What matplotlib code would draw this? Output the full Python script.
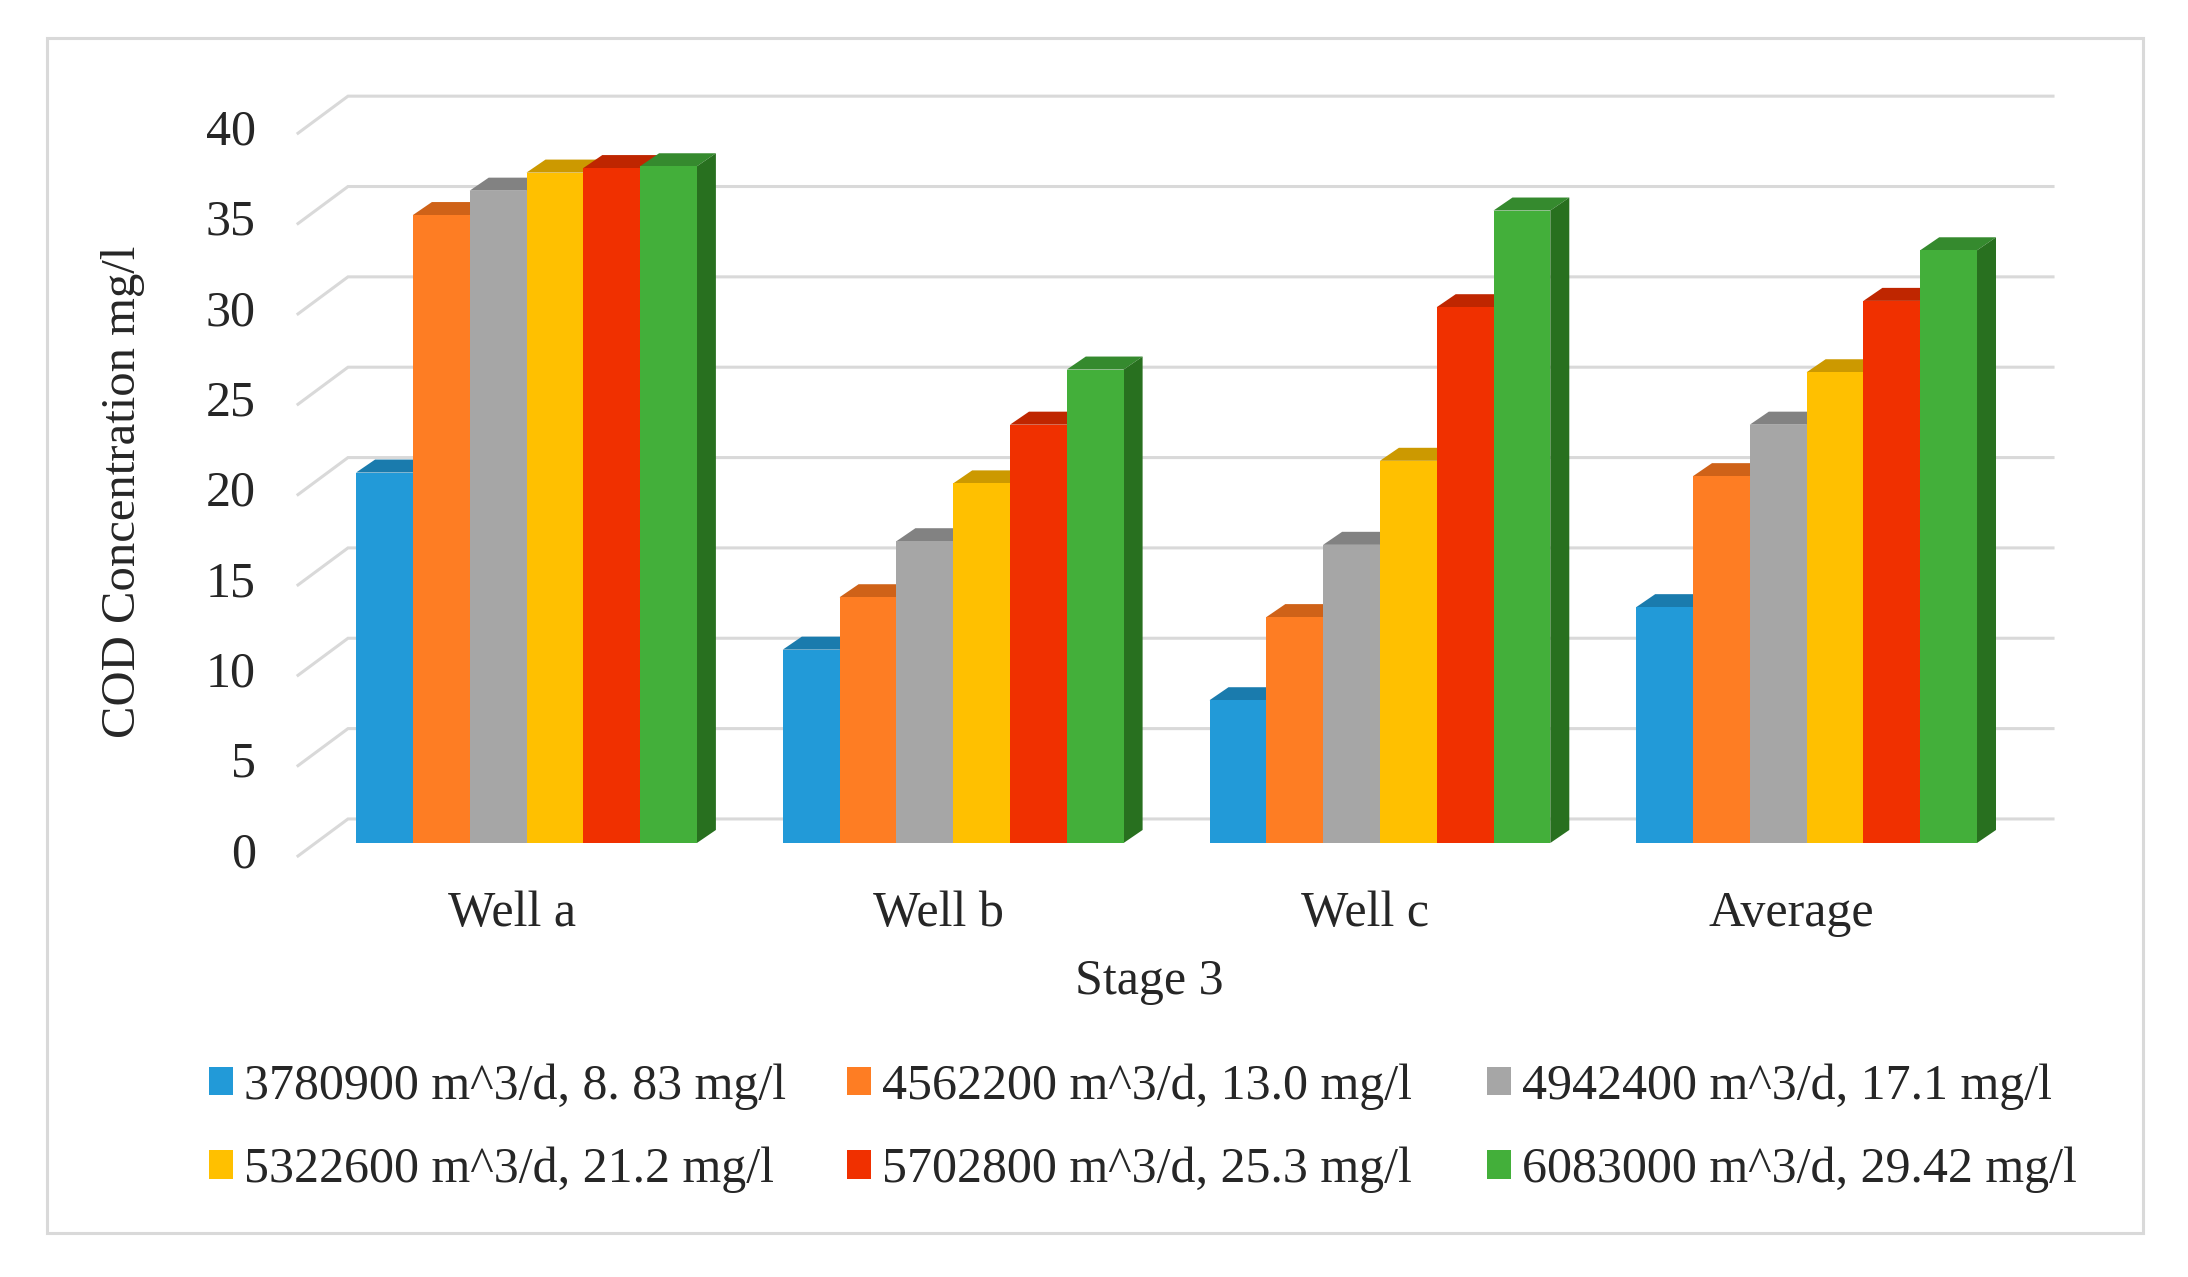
import numpy as np
import matplotlib
matplotlib.use("Agg")
import matplotlib.pyplot as plt
from matplotlib.patches import Patch, Polygon, Rectangle

plt.rcParams["font.family"] = ["Liberation Serif", "DejaVu Serif"]

# ---- data ----
categories = ["Well a", "Well b", "Well c", "Average"]
series_labels = [
    "3780900 m^3/d, 8. 83 mg/l",
    "4562200 m^3/d, 13.0 mg/l",
    "4942400 m^3/d, 17.1 mg/l",
    "5322600 m^3/d, 21.2 mg/l",
    "5702800 m^3/d, 25.3 mg/l",
    "6083000 m^3/d, 29.42 mg/l",
]
s1 = [20.5, 10.7, 7.9, 13.05]
s2 = [34.75, 13.6, 12.5, 20.3]
s3 = [36.1, 16.7, 16.5, 23.15]
s4 = [37.1, 19.9, 21.15, 26.05]
s5 = [37.35, 23.15, 29.65, 30.0]
s6 = [37.45, 26.2, 35.0, 32.8]
values = [s1, s2, s3, s4, s5, s6]
y_ticks = [0, 5, 10, 15, 20, 25, 30, 35, 40]

front_cols = ["#229AD8", "#FE7D23", "#A6A6A6", "#FFC000", "#F03000", "#43AF3A"]
top_cols = ["#1A7BAD", "#CF6218", "#828282", "#CC9900", "#BF2600", "#358A2E"]
side_cols = ["#156A95", "#A84F12", "#6A6A6A", "#A67C00", "#9A1F00", "#28701F"]

W, H = 2188, 1277
TXT = "#262626"
FS = 36

fig = plt.figure(figsize=(W / 100, H / 100), dpi=100, facecolor="white")

# light frame round the chart
fig.add_artist(Rectangle((47 / W, 1 - 1233 / H), (2143 - 47) / W, (1233 - 38) / H,
                         transform=fig.transFigure, fill=False,
                         edgecolor="#D9D9D9", lw=2.2))

# axes: left edge = front of side wall, y=0 = front of the floor
ax = fig.add_axes([298 / W, 1 - 856 / H, (2053 - 298) / W, 763 / H])
unit = 426.7
x0 = (298 - 526.5) / unit
x1 = (2053 - 526.5) / unit
ax.set_xlim(x0, x1)
ax.set_ylim(0, 763 / 18.07)
for sp in ax.spines.values():
    sp.set_visible(False)

# gridlines with the slanted wall part
wall_dx, wall_dy = 50 / unit, 2.05
for v in y_ticks:
    ax.plot([x0, x0 + wall_dx, x1], [v, v + wall_dy, v + wall_dy],
            color="#D9D9D9", lw=2.2, clip_on=False, zorder=1, solid_joinstyle="miter")

# bars with fake 3d top and side
bar_w = 56.8 / unit
dep_x, dep_y = 19 / unit, 0.72
base = 0.72
pos = np.arange(len(categories))
for j, vals in enumerate(values):
    xs = pos + (j - 2.5) * bar_w
    ax.bar(xs, vals, bar_w, bottom=base, color=front_cols[j], zorder=3 + j)
    for xc, v in zip(xs, vals):
        l, r, t = xc - bar_w / 2, xc + bar_w / 2, base + v
        ax.add_patch(Polygon([(l, t), (l + dep_x, t + dep_y), (r + dep_x, t + dep_y), (r, t)],
                             color=top_cols[j], lw=0, zorder=2.9 + j))
        ax.add_patch(Polygon([(r, base), (r + dep_x, base + dep_y), (r + dep_x, t + dep_y), (r, t)],
                             color=side_cols[j], lw=0, zorder=2.9 + j))

ax.set_yticks(np.array(y_ticks) + 0.36)
ax.set_yticklabels([str(v) for v in y_ticks], fontsize=FS, color=TXT)
ax.set_xticks(pos - 0.035)
ax.set_xticklabels(categories, fontsize=FS, color=TXT)
ax.tick_params(axis="y", length=0, pad=30.5)
ax.tick_params(axis="x", length=0, pad=25)
ax.set_ylabel("COD Concentration mg/l", fontsize=35, color=TXT)
ax.yaxis.set_label_coords(-0.087, 0.477)
ax.set_xlabel("Stage 3", fontsize=FS, color=TXT, x=0.485, labelpad=15)

# legend: one block per column so each column starts where it does in the original
col_x = [209, 847, 1487]
col_items = [[0, 3], [1, 4], [2, 5]]
for cx, items in zip(col_x, col_items):
    leg = fig.legend([Patch(color=front_cols[k], lw=0) for k in items],
                     [series_labels[k] for k in items],
                     frameon=False, fontsize=FS, labelcolor=TXT,
                     loc="upper left", bbox_to_anchor=(cx / W, 1 - 1063 / H),
                     borderpad=0, borderaxespad=0, handlelength=0.47, handleheight=0.5,
                     handletextpad=0.22, labelspacing=0.74)

fig.savefig("out.png", dpi=100)
